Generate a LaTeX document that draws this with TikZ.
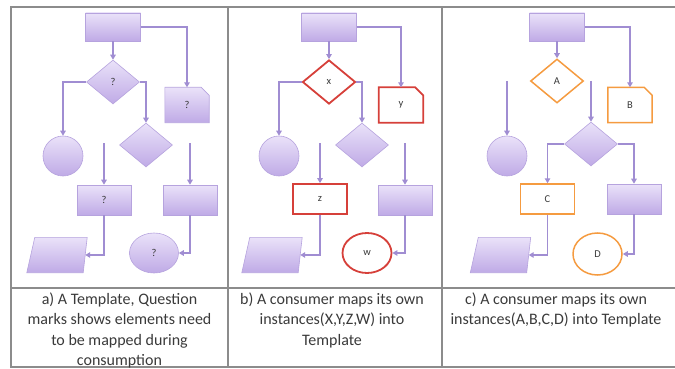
\documentclass[tikz,border=0pt]{standalone}
\usepackage{fontspec}
\setmainfont{Carlito}
\usetikzlibrary{shapes.geometric,arrows.meta}

\definecolor{linec}{HTML}{A08DD2}
\definecolor{fillt}{HTML}{EAE2F9}
\definecolor{fillb}{HTML}{BFAAE6}
\definecolor{edgec}{HTML}{B6A3DE}
\definecolor{redc}{HTML}{D6403A}
\definecolor{orc}{HTML}{F59B40}
\definecolor{gridc}{HTML}{8C8C8C}
\definecolor{textc}{HTML}{3A3A3A}

% snipped-corner document outline around a named node
\newcommand{\snipdoc}[1]{(#1.north west) -- ([xshift=-8pt]#1.north east)
  -- ([yshift=-8pt]#1.north east) -- (#1.south east) -- (#1.south west) -- cycle}
% slanted data (parallelogram) outline around a named node
\newcommand{\slantbox}[1]{(#1.south west) -- ([xshift=-4pt]#1.south east)
  -- (#1.north east) -- ([xshift=8pt]#1.north west) -- cycle}

\begin{document}
\begin{tikzpicture}[x=1pt,y=-1pt,
  flow/.style={draw=linec, line width=1.8pt, -{Triangle[length=5pt,width=5.5pt]}},
  filled/.style={top color=fillt, bottom color=fillb, draw=edgec, line width=0.6pt},
  redline/.style={draw=redc, fill=white, line width=1.8pt},
  orangeline/.style={draw=orc, fill=white, line width=1.5pt},
  lbl/.style={font=\fontsize{10.5}{11}\selectfont, text=textc},
  topbox/.style={rectangle, minimum width=55pt, minimum height=28pt, inner sep=0pt},
  boxn/.style={rectangle, minimum width=54pt, minimum height=30pt, inner sep=0pt, lbl},
  dia/.style={diamond, aspect=1, inner sep=0pt, minimum width=53pt, minimum height=44pt, lbl},
  roundn/.style={circle, minimum size=40pt, inner sep=0pt},
  ovaln/.style={ellipse, minimum width=49pt, minimum height=40pt, inner sep=0pt, lbl},
  paran/.style={rectangle, minimum width=60pt, minimum height=35pt, inner sep=0pt},
  docn/.style={rectangle, minimum width=44pt, minimum height=35pt, inner sep=0pt, lbl},
  caption/.style={anchor=north, align=center, text=textc,
    font=\fontsize{16}{20.5}\selectfont}
]
\useasboundingbox (0,0) rectangle (675,369);

% table grid
\draw[gridc, line width=1.6pt] (676,7) -- (11,7) -- (11,367) -- (676,367);
\draw[gridc, line width=1.6pt] (11,288) -- (676,288);
\draw[gridc, line width=1.6pt] (228,7) -- (228,367);
\draw[gridc, line width=1.6pt] (442,7) -- (442,367);

% ---------- a) template ----------
\begin{scope}
  \node[topbox, filled] (a0) at (113,27) {};
  \node[dia, filled] (a1) at (113,82) {?};
  \node[docn] (a2) at (187,105) {};
  \shade[filled] \snipdoc{a2};
  \node[lbl] at (a2) {?};
  \node[roundn, filled] (a3) at (63,156) {};
  \node[dia, filled] (a4) at (146,145) {};
  \node[boxn, filled] (a5) at (104,200) {?};
  \node[boxn, filled] (a6) at (190,200) {};
  \node[paran] (a7) at (57,255) {};
  \shade[filled] \slantbox{a7};
  \node[ovaln, filled] (a8) at (154,253) {?};
  \coordinate (a5in) at (104,143);
  \coordinate (a6in) at (190,143);

  \draw[flow] (a0) -- (a1);
  \draw[flow] (a0.east) -| (a2.north);
  \draw[flow] (a1.west) -| (a3.north);
  \draw[flow] (a1.east) -| (a4.north);
  \draw[flow] (a5in) -- (a5.north);
  \draw[flow] (a6in) -- (a6.north);
  \draw[flow] (a5.south) |- ([xshift=-2pt]a7.east);
  \draw[flow] (a6.south) |- (a8.east);
\end{scope}

% ---------- b) instances X, Y, Z, W ----------
\begin{scope}[shift={(216,0)}]
  \node[topbox, filled] (b0) at (113,27) {};
  \node[dia, redline] (b1) at (113,82) {x};
  \node[docn] (b2) at (185,105) {};
  \draw[redline] \snipdoc{b2};
  \node[lbl] at (b2) {y};
  \node[roundn, filled] (b3) at (63,156) {};
  \node[dia, filled] (b4) at (146,145) {};
  \node[boxn, redline] (b5) at (104,199) {z};
  \node[boxn, filled] (b6) at (189,200) {};
  \node[paran] (b7) at (56,255) {};
  \shade[filled] \slantbox{b7};
  \node[ovaln, redline] (b8) at (151,253) {w};
  \coordinate (b5in) at (104,143);
  \coordinate (b6in) at (189,143);

  \draw[flow] (b0) -- (b1);
  \draw[flow] (b0.east) -| (b2.north);
  \draw[flow] (b1.west) -| (b3.north);
  \draw[flow] (b1.east) -| (b4.north);
  \draw[flow] (b5in) -- (b5.north);
  \draw[flow] (b6in) -- (b6.north);
  \draw[flow] (b5.south) |- ([xshift=-2pt]b7.east);
  \draw[flow] (b6.south) |- (b8.east);
\end{scope}

% ---------- c) instances A, B, C, D ----------
\begin{scope}[shift={(444,0)}]
  \node[topbox, filled] (c0) at (113,27) {};
  \node[dia, orangeline] (c1) at (113,81) {A};
  \node[docn] (c2) at (186,105) {};
  \draw[orangeline] \snipdoc{c2};
  \node[lbl] at (c2) {B};
  \node[roundn, filled] (c3) at (63,156) {};
  \node[dia, filled] (c4) at (147,144) {};
  \node[boxn, orangeline] (c5) at (103.5,199) {C};
  \node[boxn, filled] (c6) at (190,199) {};
  \node[paran] (c7) at (56.5,255) {};
  \shade[filled] \slantbox{c7};
  \node[ovaln, orangeline, minimum height=42pt] (c8) at (153.5,254) {D};
  \coordinate (c3in) at (63,81);
  \coordinate (c4in) at (147,81);

  \draw[flow] (c0) -- (c1);
  \draw[flow] (c0.east) -| (c2.north);
  \draw[flow] (c3in) -- (c3.north);
  \draw[flow] (c4in) -- (c4.north);
  \draw[flow] (c4.west) -| (c5.north);
  \draw[flow] (c4.east) -| (c6.north);
  \draw[flow] (c5.south) |- ([xshift=-2pt]c7.east);
  \draw[flow] (c6.south) |- (c8.east);
\end{scope}

% captions
\node[caption] (capa) at (119.5,289) {a) A Template, Question\\marks shows elements need\\to be mapped during\\consumption};
\node[caption] (capb) at (332,289) {b) A consumer maps its own\\instances(X,Y,Z,W) into\\Template};
\node[caption] (capc) at (556,289) {c) A consumer maps its own\\instances(A,B,C,D) into Template};
\end{tikzpicture}
\end{document}
